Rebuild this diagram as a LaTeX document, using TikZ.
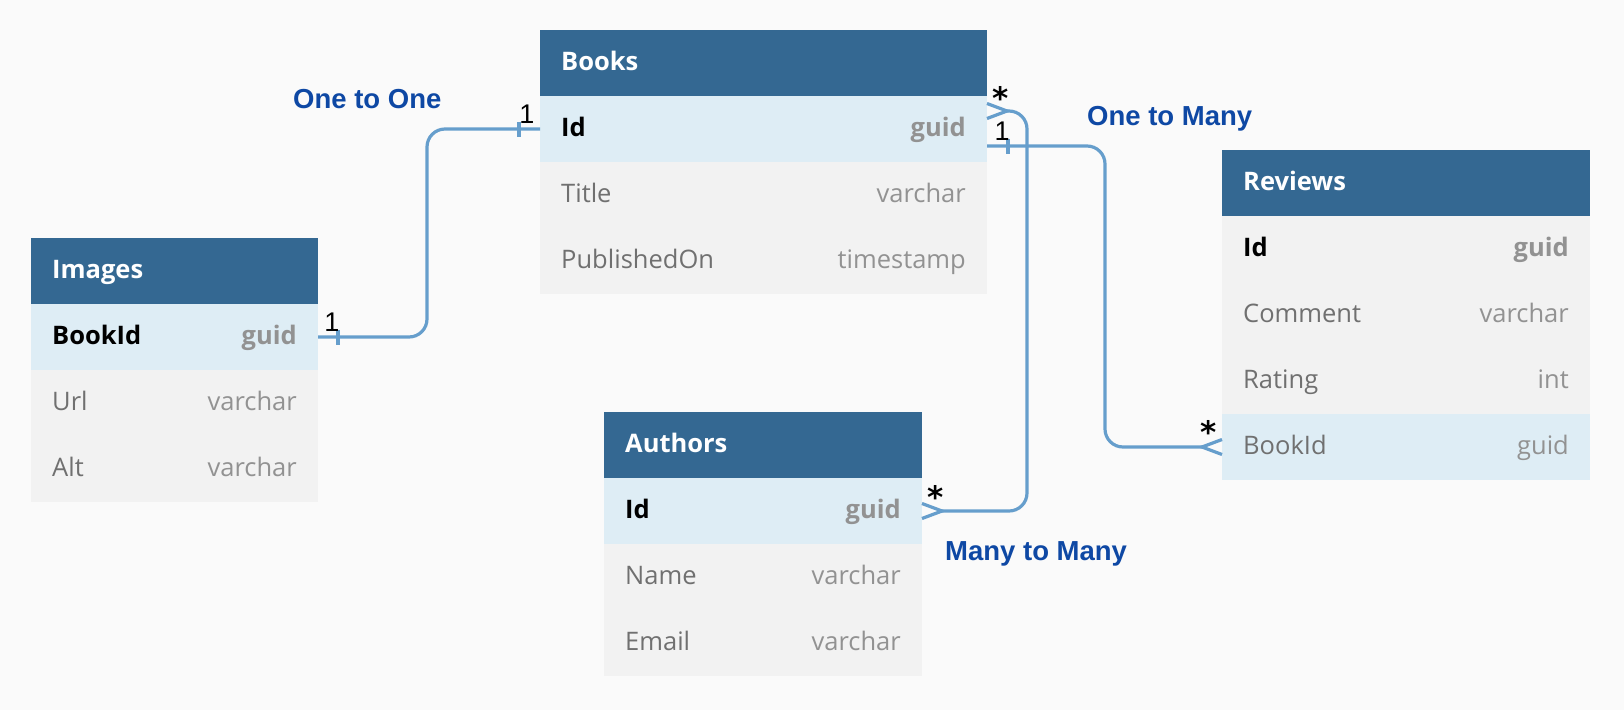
\documentclass[tikz,border=0pt]{standalone}
\usepackage{fontspec}
\setmainfont{Open Sans}
\newfontfamily\labfont{Liberation Sans}
\newfontfamily\astfont{DejaVu Sans}
\definecolor{bgc}{RGB}{250,250,250}
\definecolor{hdrblue}{RGB}{52,104,146}
\definecolor{keyblue}{RGB}{222,237,245}
\definecolor{rowgray}{RGB}{242,242,242}
\definecolor{namegray}{RGB}{112,112,112}
\definecolor{typegray}{RGB}{146,146,146}
\definecolor{linkblue}{RGB}{102,158,204}
\definecolor{relblue}{RGB}{14,72,164}
\newcommand\cHd[1]{\textcolor{white}{\bfseries #1}}
\newcommand\cKn[1]{\textcolor{black}{\bfseries #1}}
\newcommand\cKt[1]{\textcolor{typegray}{\bfseries #1}}
\newcommand\cNn[1]{\textcolor{namegray}{#1}}
\newcommand\cNt[1]{\textcolor{typegray}{#1}}
\tikzset{
  rowbox/.style={draw=none, inner sep=0pt, outer sep=0pt, minimum height=66pt, anchor=north west},
  cell/.style={inner sep=0pt, font=\fontsize{25.5pt}{30pt}\selectfont},
  link/.style={draw=linkblue, line width=3.2pt, rounded corners=18pt},
  foot/.style={draw=linkblue, line width=3.2pt},
  card/.style={inner sep=0pt, anchor=base, font=\labfont\fontsize{27pt}{30pt}\selectfont},
  star/.style={inner sep=0pt, anchor=base, font=\astfont\bfseries\fontsize{31pt}{34pt}\selectfont},
  rel/.style={inner sep=0pt, anchor=base west, text=relblue, font=\labfont\bfseries\fontsize{27.5pt}{32pt}\selectfont},
}
\newcommand\myrow[7]{%
  \node[rowbox, fill=#5, minimum width=#4pt] (#1) at (#2,#3) {};
  \node[cell, anchor=base west] (#1-l) at ([xshift=21pt,yshift=-7pt]#1.west) {#6};
  \node[cell, anchor=base east] (#1-r) at ([xshift=-21pt,yshift=-7pt]#1.east) {#7};
}
\begin{document}
\begin{tikzpicture}[x=1pt,y=-1pt]
\path[use as bounding box, fill=bgc] (0,0) rectangle (1624,710);

% Books
\myrow{books-h}{540}{30}{447}{hdrblue}{\cHd{Books}}{}
\myrow{books-id}{540}{96}{447}{keyblue}{\cKn{Id}}{\cKt{guid}}
\myrow{books-title}{540}{162}{447}{rowgray}{\cNn{Title}}{\cNt{varchar}}
\myrow{books-pub}{540}{228}{447}{rowgray}{\cNn{PublishedOn}}{\cNt{timestamp}}

% Images
\myrow{images-h}{31}{238}{287}{hdrblue}{\cHd{Images}}{}
\myrow{images-bookid}{31}{304}{287}{keyblue}{\cKn{BookId}}{\cKt{guid}}
\myrow{images-url}{31}{370}{287}{rowgray}{\cNn{Url}}{\cNt{varchar}}
\myrow{images-alt}{31}{436}{287}{rowgray}{\cNn{Alt}}{\cNt{varchar}}

% Reviews
\myrow{reviews-h}{1222}{150}{368}{hdrblue}{\cHd{Reviews}}{}
\myrow{reviews-id}{1222}{216}{368}{rowgray}{\cKn{Id}}{\cKt{guid}}
\myrow{reviews-comment}{1222}{282}{368}{rowgray}{\cNn{Comment}}{\cNt{varchar}}
\myrow{reviews-rating}{1222}{348}{368}{rowgray}{\cNn{Rating}}{\cNt{int}}
\myrow{reviews-bookid}{1222}{414}{368}{keyblue}{\cNn{BookId}}{\cNt{guid}}

% Authors
\myrow{authors-h}{604}{412}{318}{hdrblue}{\cHd{Authors}}{}
\myrow{authors-id}{604}{478}{318}{keyblue}{\cKn{Id}}{\cKt{guid}}
\myrow{authors-name}{604}{544}{318}{rowgray}{\cNn{Name}}{\cNt{varchar}}
\myrow{authors-email}{604}{610}{318}{rowgray}{\cNn{Email}}{\cNt{varchar}}

% One to One: Images.BookId -- Books.Id
\draw[link] (images-bookid.east) -- ([xshift=109pt]images-bookid.east) |- (books-id.west);
\draw[foot] ([xshift=20pt,yshift=7.5pt]images-bookid.east) -- ([xshift=20pt,yshift=-7.5pt]images-bookid.east);
\draw[foot] ([xshift=-21pt,yshift=7.5pt]books-id.west) -- ([xshift=-21pt,yshift=-7.5pt]books-id.west);

% Many to Many: Books.Id -- Authors.Id
\draw[link] ([xshift=20pt,yshift=18pt]books-id.east) -- ([xshift=40pt,yshift=18pt]books-id.east) |- ([xshift=20pt]authors-id.east);
\draw[foot] ([yshift=25.5pt]books-id.east) -- ([xshift=20pt,yshift=18pt]books-id.east) -- ([yshift=10.5pt]books-id.east);
\draw[foot] ([yshift=7.5pt]authors-id.east) -- ([xshift=20pt]authors-id.east) -- ([yshift=-7.5pt]authors-id.east);

% One to Many: Books.Id -- Reviews.BookId
\draw[link] ([yshift=-17pt]books-id.east) -- ([xshift=118pt,yshift=-17pt]books-id.east) |- ([xshift=-20pt]reviews-bookid.west);
\draw[foot] ([xshift=21pt,yshift=-9.5pt]books-id.east) -- ([xshift=21pt,yshift=-24.5pt]books-id.east);
\draw[foot] ([yshift=7.5pt]reviews-bookid.west) -- ([xshift=-20pt]reviews-bookid.west) -- ([yshift=-7.5pt]reviews-bookid.west);

% cardinalities
\node[card] (c-img) at (332,331) {1};
\node[card] (c-bl) at (527,123) {1};
\node[card] (c-br) at (1002,140) {1};
\node[star] (s-books) at (1001,109.5) {*};
\node[star] (s-auth) at (936,508.5) {*};
\node[star] (s-rev) at (1209,443.5) {*};

% relation labels
\node[rel] (r-oo) at (293,108) {One to One};
\node[rel] (r-om) at (1087,125) {One to Many};
\node[rel] (r-mm) at (945,560) {Many to Many};
\end{tikzpicture}
\end{document}
